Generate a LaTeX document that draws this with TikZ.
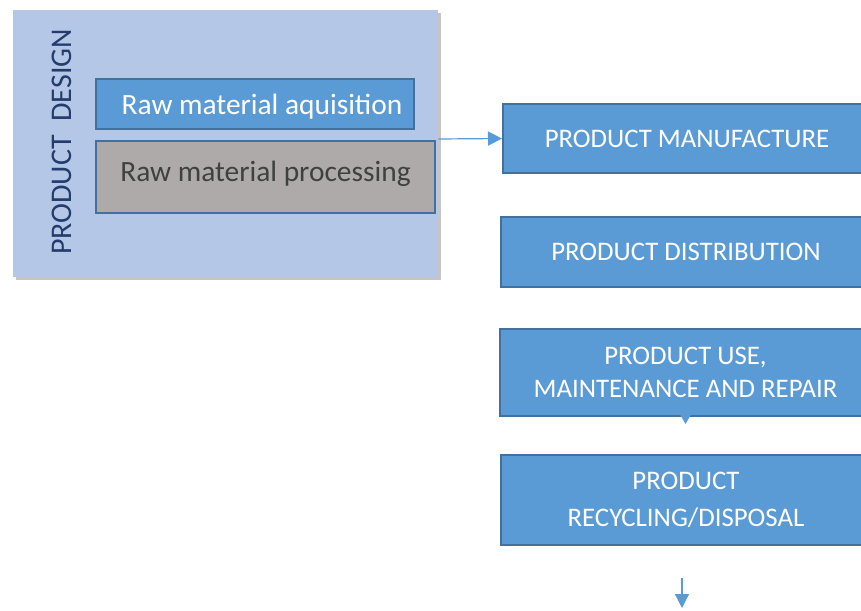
\documentclass[tikz,border=0pt]{standalone}
\usepackage{fontspec}
\setmainfont{Carlito}
\usepackage{xcolor}
\usepackage{tikz}
\usetikzlibrary{arrows.meta,positioning,shadows}
\definecolor{pblue}{RGB}{91,155,213}
\definecolor{pedge}{RGB}{65,113,156}
\definecolor{plight}{RGB}{180,199,231}
\definecolor{pnavy}{RGB}{36,60,108}
\definecolor{pgray}{RGB}{174,170,170}
\definecolor{ptext}{RGB}{64,64,64}
\tikzset{
  panel/.style ={rectangle, fill=plight, draw=none,
                 drop shadow={shadow xshift=1.5pt, shadow yshift=-1.5pt, opacity=0.45}},
  stage/.style ={rectangle, fill=pblue, draw=pedge, line width=1pt, text=white,
                 align=center, inner sep=2pt, font=\fontsize{13.4}{16.5}\selectfont},
  rawbox/.style={stage, font=\fontsize{14.7}{17}\selectfont},
  flow/.style  ={-{Triangle[length=7pt,width=7pt]}, draw=pblue, line width=0.6pt}
}
\begin{document}
\begin{tikzpicture}[x=0.5pt, y=-0.5pt]
\clip (0,0) rectangle (861,610);
\fill[white] (0,0) rectangle (861,610);

% design panel with its two raw material steps
\node[panel, minimum width=212.5pt, minimum height=133.5pt] (design) at (225.5,143.5) {};
\node[font=\fontsize{15}{17}\selectfont, text=pnavy, rotate=90] (dlabel) at (62,142)
  {PRODUCT\ \ DESIGN};
\node[rawbox, minimum width=159pt, minimum height=25pt] (acq) at (255,104)
  {\hspace*{7pt}\raisebox{-5.5pt}[0pt][0pt]{Raw material aquisition}};
\node[rawbox, fill=pgray, text=ptext, minimum width=169.5pt, minimum height=36pt] (proc) at (265.5,177)
  {\raisebox{-2.2pt}[0pt][0pt]{Raw material processing}};

% life cycle stages
\node[stage, minimum width=184pt, minimum height=34.5pt] (manuf) at (687,138.5)
  {PRODUCT MANUFACTURE};
\node[stage, minimum width=185pt, minimum height=35pt] (distr) at (686,252)
  {PRODUCT DISTRIBUTION};
\node[stage, minimum width=185.5pt, minimum height=43.5pt] (use) at (685.5,372)
  {PRODUCT USE,\\[0pt]MAINTENANCE AND REPAIR};
\node[stage, minimum width=185pt, minimum height=45pt] (recyc) at (686,500)
  {PRODUCT\\[2pt]RECYCLING/DISPOSAL};

\coordinate (dout) at (design.east |- 0,139);
\coordinate (usetip) at (use.south |- 0,424);
\coordinate (endtop) at (682,578);
\coordinate (endtip) at (682,608);

\draw[flow] (dout) -- (manuf.west);
\draw[flow, -{Triangle[length=4.5pt,width=5pt]}] (use.south) -- (usetip);
\draw[flow] (endtop) -- (endtip);
\end{tikzpicture}
\end{document}
